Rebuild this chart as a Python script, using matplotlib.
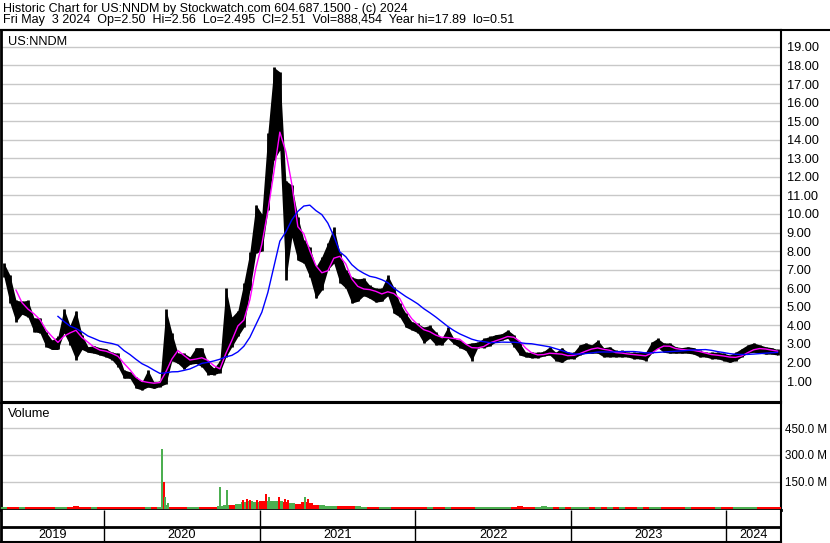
import numpy as np
import pandas as pd
import matplotlib
matplotlib.use('Agg')
import matplotlib.pyplot as plt
from matplotlib.lines import Line2D

plt.rcParams['font.family'] = ['Liberation Sans', 'DejaVu Sans']

# biweekly price ranges, May 2019 - May 2024
sample_dates = pd.date_range('2019-05-11', '2024-04-30', periods=130)

price_hi = [7.35, 6.7, 5.35, 5.3, 5.35, 4.4, 4.4, 3.65, 3.2, 3.4,
            4.9, 4.0, 4.8, 3.5, 2.85, 2.9, 2.8, 2.75, 2.55, 2.5,
            1.6, 1.5, 1.2, 0.95, 1.6, 0.95, 1.0, 4.87, 3.6, 2.5,
            2.5, 2.3, 2.8, 2.8, 2.0, 1.7, 2.1, 6.0, 4.45, 4.8,
            6.3, 7.95, 10.5, 10.0, 14.35, 17.9, 17.65, 11.8, 11.55, 9.85,
            8.6, 8.2, 7.15, 7.7, 8.45, 9.3, 7.9, 7.0, 6.6, 6.5,
            6.55, 6.15, 6.0, 6.0, 6.7, 6.05, 5.2, 4.65, 4.2, 4.1,
            3.9, 4.0, 3.65, 3.3, 3.9, 3.3, 3.2, 3.0, 3.05, 3.1,
            3.3, 3.4, 3.5, 3.55, 3.75, 3.5, 3.05, 2.55, 2.55, 2.55,
            2.6, 2.85, 2.55, 2.8, 2.55, 2.55, 2.95, 3.05, 2.95, 3.2,
            2.8, 2.85, 2.65, 2.65, 2.55, 2.55, 2.55, 2.55, 3.1, 3.3,
            3.05, 3.05, 2.85, 2.8, 2.85, 2.8, 2.65, 2.55, 2.55, 2.55,
            2.5, 2.4, 2.55, 2.75, 2.95, 3.05, 2.95, 2.85, 2.8, 2.7]

price_lo = [6.6, 5.2, 4.2, 4.6, 4.45, 3.65, 3.6, 2.85, 2.7, 2.7,
            3.6, 2.95, 2.15, 2.7, 2.55, 2.5, 2.4, 2.3, 2.15, 1.77,
            1.15, 1.15, 0.62, 0.52, 0.68, 0.6, 0.7, 0.85, 2.1, 1.95,
            1.65, 1.9, 1.95, 1.77, 1.35, 1.35, 1.45, 2.3, 2.85, 3.4,
            3.9, 5.9, 7.9, 8.0, 10.2, 12.9, 13.45, 6.45, 8.75, 7.5,
            7.35, 6.6, 5.45, 5.9, 7.0, 7.35, 6.3, 6.0, 5.2, 5.3,
            5.6, 5.45, 5.25, 5.3, 5.6, 4.65, 4.45, 3.9, 3.75, 3.6,
            3.05, 3.3, 2.95, 2.95, 3.3, 3.0, 2.8, 2.65, 2.1, 2.8,
            2.8, 2.9, 3.1, 3.2, 3.3, 2.85, 2.4, 2.3, 2.25, 2.25,
            2.35, 2.4, 2.1, 2.0, 2.2, 2.2, 2.4, 2.5, 2.5, 2.5,
            2.3, 2.3, 2.3, 2.3, 2.3, 2.2, 2.2, 2.1, 2.5, 2.8,
            2.55, 2.5, 2.5, 2.5, 2.5, 2.45, 2.3, 2.3, 2.2, 2.2,
            2.1, 2.0, 2.1, 2.3, 2.5, 2.55, 2.5, 2.45, 2.45, 2.4]

# typical daily volume in each sample (millions)
vol_base = [8, 8, 8, 8, 8, 8, 8, 8, 8, 8,
            8, 8, 14, 8, 8, 8, 8, 8, 8, 8,
            8, 8, 8, 8, 8, 8, 8, 20, 10, 10,
            10, 10, 10, 10, 10, 10, 14, 20, 22, 28,
            38, 42, 35, 45, 40, 42, 45, 38, 30, 28,
            35, 30, 22, 18, 16, 15, 14, 13, 12, 12,
            11, 9, 9, 9, 9, 9, 9, 9, 9, 9,
            9, 9, 9, 9, 9, 9, 9, 9, 9, 9,
            9, 9, 9, 9, 9, 9, 16, 9, 9, 9,
            12, 9, 9, 9, 9, 9, 9, 9, 9, 9,
            9, 9, 9, 9, 9, 9, 9, 9, 9, 9,
            9, 9, 9, 9, 9, 9, 9, 9, 9, 9,
            9, 9, 9, 9, 9, 9, 9, 9, 9, 9]

# single-day volume spikes (millions)
spike_dates = ['2020-05-15', '2020-05-20', '2020-05-23', '2020-05-30',
               '2020-09-29', '2020-10-16', '2020-11-22', '2020-12-02',
               '2020-12-09', '2020-12-25', '2021-01-16', '2021-01-23',
               '2021-02-15', '2021-03-01', '2021-03-08', '2021-04-17',
               '2021-04-24']
spike_vol = [331, 148, 63, 29, 118, 101, 50, 52, 48, 47, 80, 64, 67, 55, 50, 63, 56]
spike_up = [True, False, True, True, True, True, False, False, False, False,
            False, True, False, False, False, True, False]

years = [2019, 2020, 2021, 2022, 2023, 2024]
price_ticks = list(range(1, 20))
vol_ticks = [150, 300, 450]

header1 = "Historic Chart for US:NNDM by Stockwatch.com 604.687.1500 - (c) 2024"
header2 = ("Fri May  3 2024  Op=2.50  Hi=2.56  Lo=2.495  Cl=2.51  "
           "Vol=888,454  Year hi=17.89  lo=0.51")

GRID = '#c8c8c8'
GREEN = '#4caf50'
RED = '#ff0000'
W, H = 830, 543
FS = 9.2


def px_box(x0, y0, x1, y1):
    return [x0 / W, 1 - y1 / H, (x1 - x0) / W, (y1 - y0) / H]


fig = plt.figure(figsize=(W / 100, H / 100), dpi=100)
fig.patch.set_facecolor('white')

ax_p = fig.add_axes(px_box(1, 30, 781, 401))
ax_v = fig.add_axes(px_box(1, 403, 781, 510), sharex=ax_p)
ax_b = fig.add_axes(px_box(1, 510, 781, 542), sharex=ax_p)

x_left = pd.Timestamp('2019-05-04')
x_right = pd.Timestamp('2024-05-08')
year_starts = [pd.Timestamp(f'{y}-01-01') for y in years[1:]]

hi = pd.Series(price_hi)
lo = pd.Series(price_lo)
mid = (hi + lo) / 2
ma_fast = mid.rolling(3).mean()
ma_slow = mid.rolling(10).mean()

# price panel: high-low bars plus two moving averages
ax_p.fill_between(sample_dates, lo, hi, color='black', lw=0, zorder=3)
ax_p.vlines(sample_dates, lo, hi, color='black', lw=2, zorder=3)
ax_p.plot(sample_dates, ma_fast, color='#ff00ff', lw=1, zorder=4)
ax_p.plot(sample_dates, ma_slow, color='#0000ff', lw=1, zorder=4)
ax_p.set_ylim(-0.075, 19.91)
ax_p.set_yticks(price_ticks)
ax_p.set_yticklabels([f'{t:.2f}' for t in price_ticks])
ax_p.text(0.009, 0.968, 'US:NNDM', transform=ax_p.transAxes, fontsize=FS,
          va='center', ha='left')

# volume panel
up = [True] + [mid[i] >= mid[i - 1] for i in range(1, len(mid))]
ax_v.bar(sample_dates, vol_base, width=14.1, color=[GREEN if u else RED for u in up],
         lw=0, zorder=3)
ax_v.bar(pd.to_datetime(spike_dates), spike_vol, width=4.5,
         color=[GREEN if u else RED for u in spike_up], lw=0, zorder=3)
ax_v.set_ylim(-8, 590)
ax_v.set_yticks(vol_ticks)
ax_v.set_yticklabels([f'{t:.1f} M' for t in vol_ticks])
ax_v.text(0.009, 0.9, 'Volume', transform=ax_v.transAxes, fontsize=FS,
          va='center', ha='left')

for ax in (ax_p, ax_v):
    ax.set_xlim(x_left, x_right)
    ax.set_xticks(year_starts)
    ax.grid(True, color=GRID, lw=1, zorder=0)
    ax.set_axisbelow(True)
    ax.yaxis.tick_right()
    ax.tick_params(axis='y', length=0, pad=4, labelsize=FS)
    ax.tick_params(axis='x', length=0, labelbottom=False)
    for s in ax.spines.values():
        s.set_color('black')
    ax.spines['left'].set_linewidth(2)
    ax.spines['right'].set_linewidth(1.5)
    ax.spines['top'].set_linewidth(1.5)
ax_v.spines['bottom'].set_linewidth(2)
ax_v.tick_params(axis='y', pad=3, labelsize=8.4)

# bottom strips with year labels
ax_b.set_ylim(0, 1)
ax_b.set_xticks([])
ax_b.set_yticks([])
ax_b.axhline(0.47, color='black', lw=2)
ax_b.vlines(year_starts, 0, 1, color='black', lw=1)
bounds = [x_left] + year_starts + [x_right]
for y, a, b in zip(years, bounds[:-1], bounds[1:]):
    ax_b.text(a + (b - a) / 2, 0.22, str(y), ha='center', va='center', fontsize=FS)
for s in ax_b.spines.values():
    s.set_color('black')
ax_b.spines['left'].set_linewidth(2)
ax_b.spines['right'].set_linewidth(1.5)
ax_b.spines['bottom'].set_linewidth(1.5)
ax_b.spines['top'].set_visible(False)

# header
fig.text(3 / W, 1 - 9 / H, header1, fontsize=9, va='center', ha='left')
fig.text(3 / W, 1 - 20 / H, header2, fontsize=9, va='center', ha='left')
fig.add_artist(Line2D([0, 1], [1 - 29.5 / H, 1 - 29.5 / H], color='black', lw=1.5,
                      transform=fig.transFigure))

fig.savefig('out.png', dpi=100)
